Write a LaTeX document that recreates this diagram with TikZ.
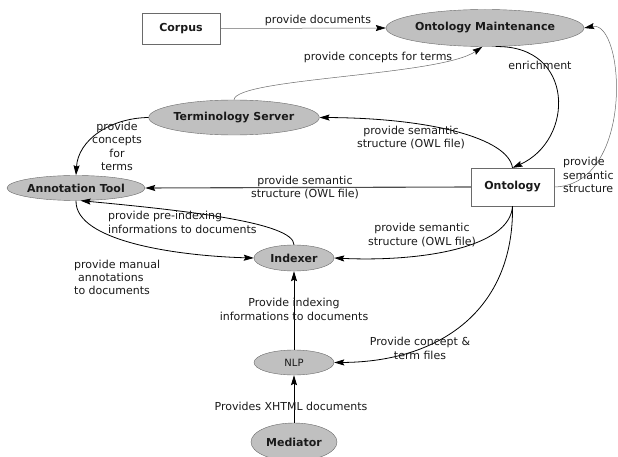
\documentclass[tikz,border=0pt]{standalone}
\usepackage{fontspec}
\setmainfont{DejaVu Sans}
\usetikzlibrary{arrows.meta,shapes.geometric}
\definecolor{ellfill}{HTML}{C0C0C0}
\definecolor{ellline}{HTML}{6A6A6A}
\definecolor{txt}{HTML}{1A1A1A}
\definecolor{thin}{HTML}{6A6A6A}
\begin{document}
\begin{tikzpicture}[x=1pt,y=-1pt,
  every node/.style={text=txt},
  ell/.style={ellipse, draw=ellline, fill=ellfill, inner sep=0pt, font=\fontsize{11}{13}\selectfont\bfseries},
  boxn/.style={rectangle, draw=ellline, fill=white, inner sep=0pt, font=\fontsize{11}{13}\selectfont\bfseries},
  lbl/.style={align=center, inner sep=0pt, font=\fontsize{11}{13.3}\selectfont},
  arr/.style={-{Stealth[length=10pt,width=6pt,inset=1.5pt,color=black]}, line width=0.8pt, draw=black},
  thinarr/.style={-{Stealth[length=10pt,width=6pt,inset=1.5pt,color=black]}, line width=0.5pt, draw=thin},
]
\useasboundingbox (0,0) rectangle (618,457);
\fill[white] (0,0) rectangle (618,457);

% nodes
\node[boxn, minimum width=78pt, minimum height=31pt] (corpus) at (181,28.5) {Corpus};
\node[ell, minimum width=154pt, minimum height=37pt] (om) at (485,28) {Ontology Maintenance};
\node[ell, minimum width=150pt, minimum height=35pt] (ts) at (234,117.5) {Terminology Server};
\node[ell, minimum width=132pt, minimum height=25pt] (at) at (76,188) {Annotation Tool};
\node[boxn, minimum width=83pt, minimum height=38pt] (ont) at (512.5,187) {Ontology};
\node[ell, minimum width=80pt, minimum height=26pt] (ix) at (294,258) {Indexer};
\node[ell, minimum width=80pt, minimum height=25pt, font=\fontsize{10}{12}\selectfont] (nlp) at (294,362.5) {NLP};
\node[ell, minimum width=86pt, minimum height=38pt] (med) at (294,442) {Mediator};

% edges
\draw[thinarr] (corpus.east) -- (om.west);
\node[lbl] (l1) at (318,20) {provide documents};

\draw[thinarr] (ts.north) .. controls (236,78) and (440,76) .. (om.262);
\node[lbl] (l2) at (378,57) {provide concepts for terms};

\draw[arr] (om.-60) .. controls (575,45) and (575,140) .. (ont.north);
\node[lbl] (l3) at (540,65) {enrichment};

\draw[arr] (ont.north) .. controls (508,138) and (430,118) .. (ts.east);
\node[lbl] (l4) at (411,137.5) {provide semantic\\structure (OWL file)};

\draw[arr, draw=black!70, line width=1.1pt] (ont.west) -- (at.east);
\node[lbl] (l5) at (305,187.5) {provide semantic\\structure (OWL file)};

\draw[thinarr] (ont.east) .. controls (635,185) and (625,20) .. (om.east);
\node[lbl, align=left, anchor=west] (l6) at (563,175) {provide\\semantic\\structure};

\draw[arr] (ts.west) .. controls (110,118) and (78,140) .. (at.north);
\node[lbl] (l7) at (117,146.5) {provide\\concepts\\for\\terms};

\draw[arr] (ix.north) .. controls (294,222) and (180,210) .. (at.-70);
\node[lbl, align=left, anchor=west] (l8) at (108,222.5) {provide pre-indexing\\informations to documents};

\draw[arr] (at.south) .. controls (75,242) and (180,256) .. (ix.west);
\node[lbl, align=left, anchor=west] (l9) at (74,277.5) {provide manual\\\hspace{4pt}annotations\\to documents};

\draw[arr] (ont.south) .. controls (510,248) and (420,262) .. (ix.east);
\node[lbl] (l10) at (422,235) {provide semantic\\structure (OWL file)};

\draw[arr] (ont.south) .. controls (514,310) and (440,362) .. (nlp.east);
\node[lbl] (l11) at (420,348.5) {Provide concept \&\\term files};

\draw[arr] (nlp.north) -- (ix.south);
\node[lbl] (l12) at (294,309.5) {Provide indexing\\informations to documents};

\draw[arr] (med.north) -- (nlp.south);
\node[lbl] (l13) at (291,406) {Provides XHTML documents};
\end{tikzpicture}
\end{document}
